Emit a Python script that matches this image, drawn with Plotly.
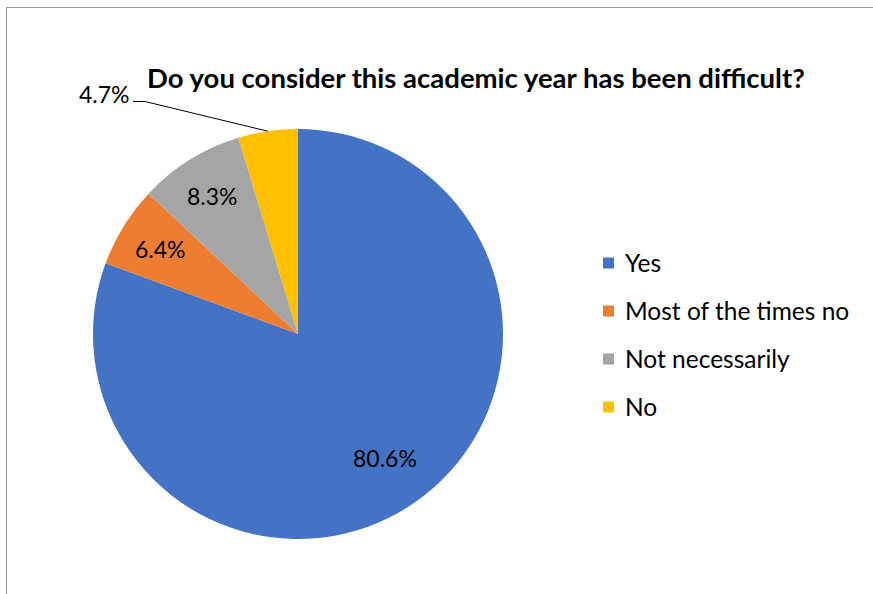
import math
import plotly.graph_objects as go

# Survey answers and their shares (%)
categories = ["Yes", "Most of the times no", "Not necessarily", "No"]
shares = [80.6, 6.4, 8.3, 4.7]
colors = ["#4472C4", "#ED7D31", "#A5A5A5", "#FFC000"]
title_text = "Do you consider this academic year has been difficult?"

W, H = 873, 594
FONT = "Lato, 'Open Sans', sans-serif"

# pie placement in pixels
cx, cy, R = 298, 334, 205


def px(x):
    return x / W


def py(y):
    return 1 - y / H


fig = go.Figure(
    go.Pie(
        labels=categories,
        values=shares,
        sort=False,
        direction="clockwise",
        rotation=0,
        marker=dict(colors=colors, line=dict(width=0)),
        textinfo="none",
        hoverinfo="label+percent",
        showlegend=False,
        domain=dict(x=[px(cx - R), px(cx + R)], y=[py(cy + R), py(cy - R)]),
    )
)

annotations = []
shapes = []

# slice labels placed along each slice's mid angle
total = sum(shares)
cum = 0.0
for i, (cat, v) in enumerate(zip(categories, shares)):
    mid = (cum + v / 2) / total * 2 * math.pi
    cum += v
    sx, sy = math.sin(mid), -math.cos(mid)
    label = f"{v:.1f}%"
    if v >= 5:
        rr = (0.74 if v > 50 else 0.79) * R
        annotations.append(dict(
            x=px(cx + rr * sx), y=py(cy + rr * sy), xref="paper", yref="paper",
            text=label, showarrow=False, xanchor="center", yanchor="middle",
            font=dict(family=FONT, size=23, color="#000000"),
        ))
    else:
        # outside label with a leader line to the slice edge
        ex, ey = cx + R * sx, cy + R * sy
        lx, ly = 145, 101.5
        shapes.append(dict(
            type="path", xref="paper", yref="paper",
            path=f"M {px(ex)},{py(ey)} L {px(lx)},{py(ly)} L {px(lx - 12)},{py(ly)}",
            line=dict(color="#000000", width=1),
        ))
        annotations.append(dict(
            x=px(lx - 13), y=py(ly - 8), xref="paper", yref="paper",
            text=label, showarrow=False, xanchor="right", yanchor="middle",
            font=dict(family=FONT, size=23, color="#000000"),
        ))

# legend drawn as colored squares with text
leg_x, leg_y0, leg_dy, sq = 603, 263, 48, 11
for i, (cat, col) in enumerate(zip(categories, colors)):
    yy = leg_y0 + i * leg_dy
    shapes.append(dict(
        type="rect", xref="paper", yref="paper",
        x0=px(leg_x), x1=px(leg_x + sq), y0=py(yy + sq / 2), y1=py(yy - sq / 2),
        fillcolor=col, line=dict(width=0),
    ))
    annotations.append(dict(
        x=px(leg_x + sq + 9), y=py(yy - 1), xref="paper", yref="paper",
        text=cat, showarrow=False, xanchor="left", yanchor="middle",
        font=dict(family=FONT, size=24.5, color="#000000"),
    ))

# title
annotations.append(dict(
    x=px(476), y=py(78), xref="paper", yref="paper",
    text=f"<b>{title_text}</b>", showarrow=False, xanchor="center", yanchor="middle",
    font=dict(family=FONT, size=27.5, color="#000000"),
))

# chart frame
shapes.append(dict(
    type="rect", xref="paper", yref="paper",
    x0=px(6.5), x1=px(W + 5), y0=py(H + 5), y1=py(7.5),
    line=dict(color="#969696", width=1), fillcolor="rgba(0,0,0,0)",
))

fig.update_layout(
    width=W, height=H,
    margin=dict(l=0, r=0, t=0, b=0),
    paper_bgcolor="white", plot_bgcolor="white",
    annotations=annotations, shapes=shapes,
    showlegend=False,
)

fig.write_html("out.html")
